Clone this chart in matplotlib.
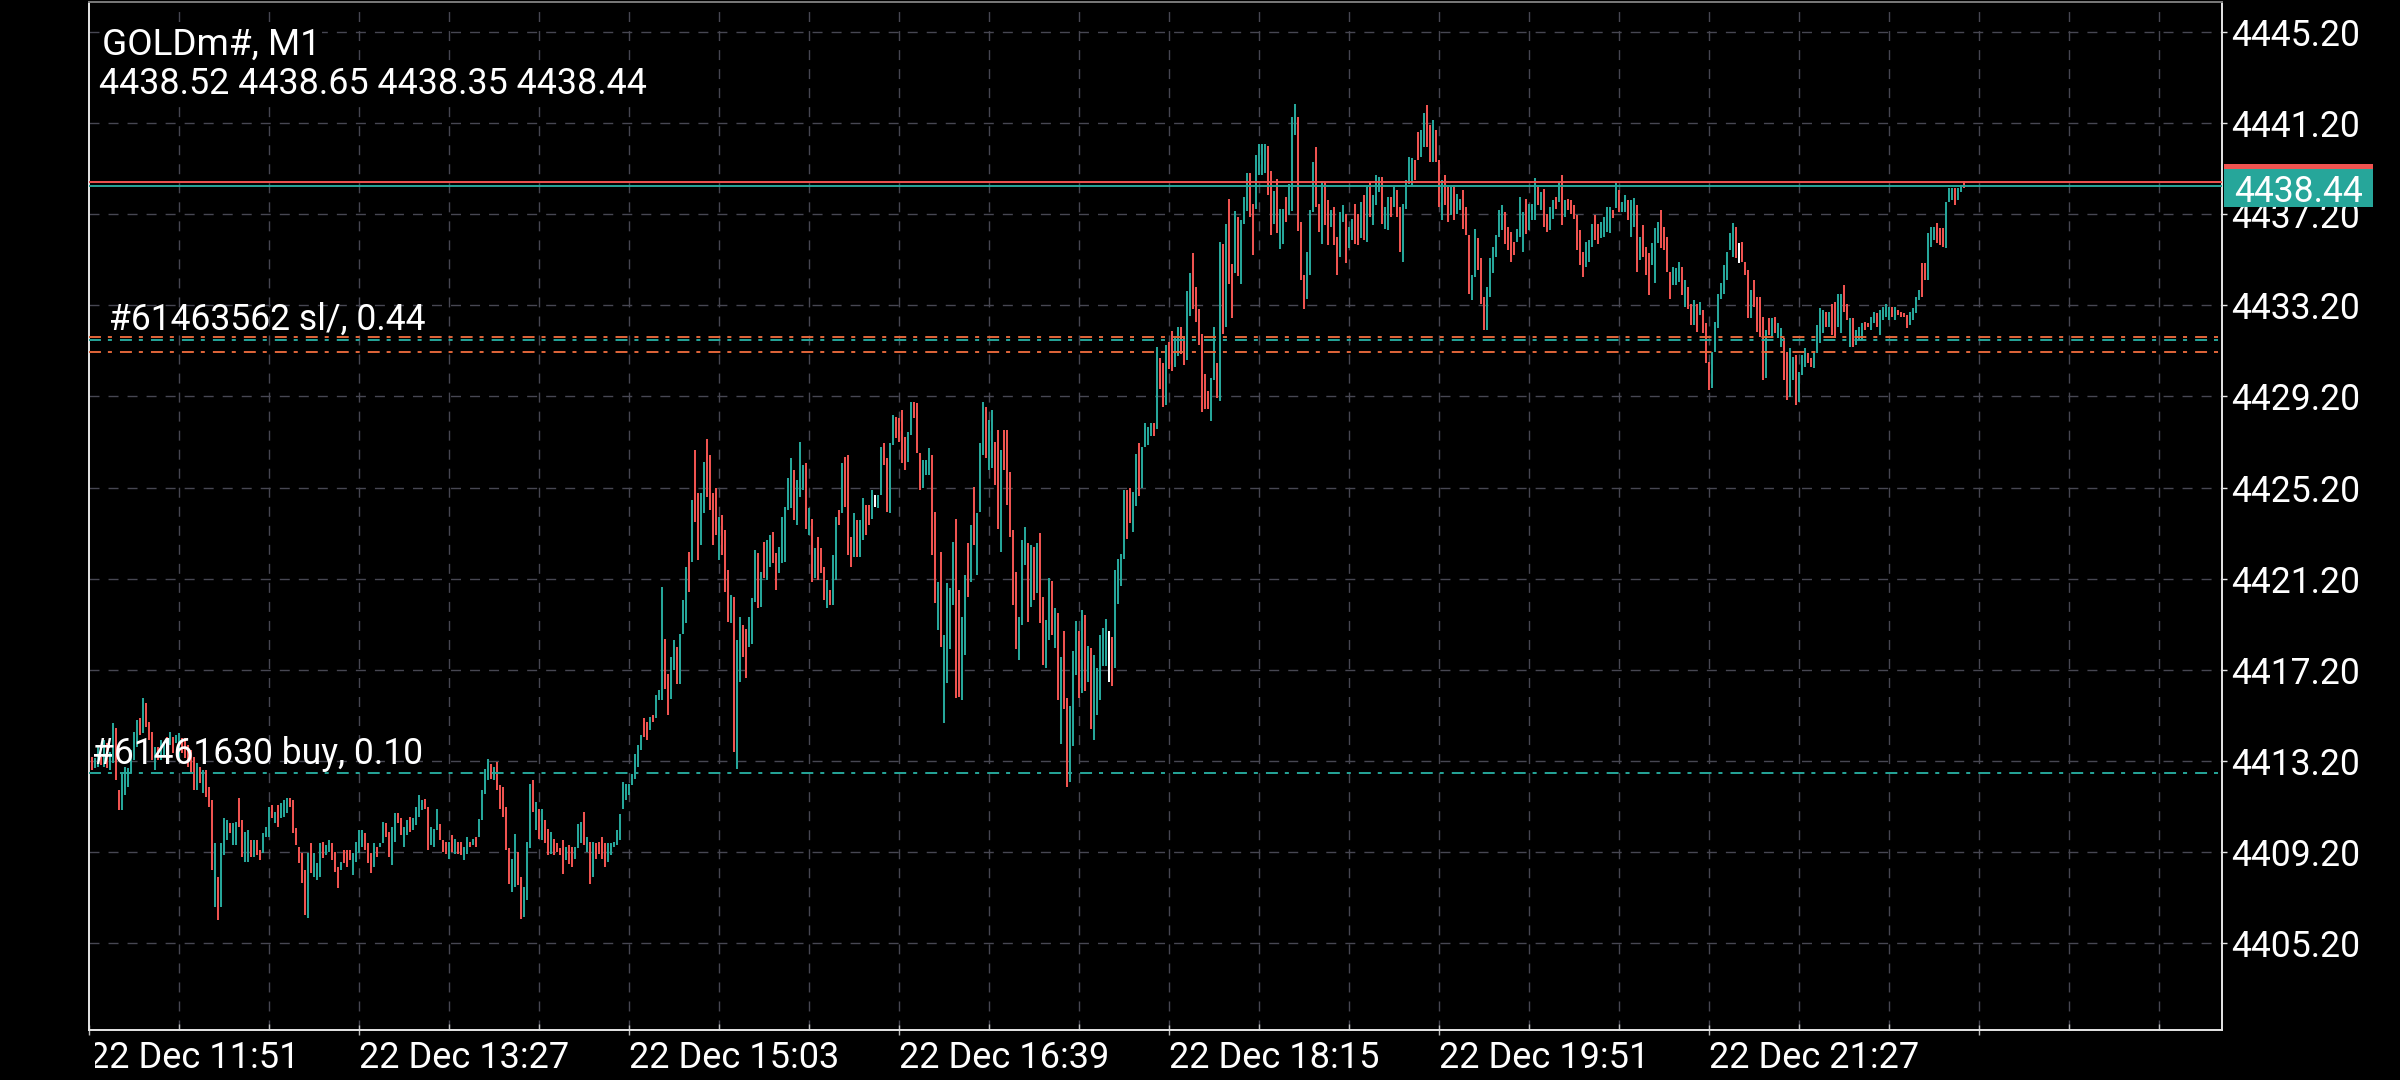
import numpy as np
import matplotlib
matplotlib.use("Agg")
import matplotlib.pyplot as plt
from matplotlib.patches import Rectangle
from matplotlib.transforms import blended_transform_factory, Bbox, TransformedBbox

plt.rcParams['font.family'] = ['Roboto', 'DejaVu Sans']
plt.rcParams['lines.scale_dashes'] = False

# M1 bars, high / low in dollars above 4400 left to right
BASE = 4400.0
hi_a = [13.38, 13.31, 13.82, 13.38, 14.11, 13.97, 13.60, 14.85, 14.63, 11.92,
        12.65, 12.94, 12.87, 13.68, 14.48, 14.99, 15.07, 15.94, 15.73, 14.92,
        14.48, 13.82, 13.82, 14.11, 14.04, 14.26, 14.48, 14.26, 14.33, 14.41,
        14.19, 14.19, 13.90, 13.68, 13.38, 13.09, 12.94, 12.80, 12.80, 12.07,
        11.48, 9.58, 8.11, 9.58, 10.67, 10.60, 10.45, 10.45, 10.53, 11.55,
        10.60, 10.09, 10.16, 9.72, 9.72, 9.72, 9.28, 10.02, 10.31, 11.19,
        11.26, 10.97, 11.26, 11.33, 11.48, 11.55, 11.55, 11.48, 10.23, 9.43,
        9.14, 8.40, 9.14, 9.58, 9.14, 8.70, 9.58, 9.65, 9.50, 9.72,
        9.58, 9.21, 8.55, 8.77, 9.28, 9.28, 9.28, 9.14, 9.65, 10.16,
        10.16, 10.02, 9.58, 9.14, 9.58, 9.43, 9.58, 10.53, 10.45, 10.09,
        10.31, 10.89, 10.89, 10.67, 10.31, 10.60, 10.75, 10.67]
lo_a = [12.80, 12.87, 12.94, 13.02, 12.94, 12.87, 12.80, 13.09, 12.36, 11.04,
        11.04, 11.70, 12.07, 12.65, 13.24, 13.82, 14.33, 14.41, 14.70, 14.11,
        13.24, 12.80, 13.24, 13.24, 13.38, 13.68, 13.90, 13.53, 13.97, 13.24,
        13.53, 13.31, 12.94, 12.65, 11.92, 11.92, 12.21, 11.77, 11.62, 11.19,
        8.40, 6.79, 6.21, 6.79, 9.06, 9.72, 10.02, 9.50, 9.50, 10.31,
        8.99, 8.77, 8.77, 8.99, 8.99, 9.06, 8.84, 9.14, 9.87, 9.87,
        10.67, 10.45, 10.31, 10.67, 10.75, 10.89, 11.19, 10.02, 9.50, 8.70,
        7.82, 6.43, 6.28, 8.26, 8.11, 7.97, 8.11, 8.92, 9.06, 9.21,
        8.84, 8.33, 7.60, 8.40, 8.70, 8.55, 8.84, 8.18, 8.77, 9.14,
        9.43, 9.28, 8.70, 8.26, 8.55, 8.99, 9.43, 9.58, 9.87, 8.99,
        8.62, 9.65, 10.45, 9.94, 9.43, 9.94, 10.09, 10.16]
col_a = ("rggrgrggrr" "ggggggrgrr" "rgrggrgrgg" "rrrrrgrgrr" "rgrgggrggr"
         "rggrgrrggg" "rgrgggrrrr" "rrgrgggrgg" "rrrgrrrggg" "grrrgrggrr" "ggrrggrg")

hi_b = [11.18, 11.69, 11.47, 11.54, 11.18, 10.30, 10.22, 11.10, 10.44, 9.71,
        9.64, 9.64, 9.93, 9.78, 9.64, 9.64, 9.42, 9.86, 9.64, 9.78,
        9.86, 10.66, 11.91, 12.86, 13.30, 13.08, 12.93, 13.15, 12.13, 12.05,
        11.18, 9.35, 8.91, 10.00, 9.20, 8.10, 7.66, 9.64, 12.20, 12.35,
        11.40, 11.10, 11.10, 10.59, 10.22, 10.08, 9.78, 9.57, 9.35, 9.71,
        9.42, 9.49, 9.42, 9.42, 10.44, 10.52, 10.96, 9.86, 9.64, 9.64,
        9.57, 9.64, 9.86, 9.57, 9.57, 9.57, 9.64, 10.15, 10.88, 12.27,
        12.20, 12.20, 12.64, 13.52, 13.88, 14.32, 15.06, 14.91, 15.13, 15.20,
        16.08, 16.30, 20.84, 18.57, 17.03, 17.76, 18.50, 18.20, 18.79, 20.25,
        21.72, 22.38, 24.65, 26.84, 24.94, 24.94, 26.33, 27.35, 26.62, 24.94,
        25.16, 23.92, 23.99, 23.33, 21.57]
lo_b = [10.37, 10.74, 11.03, 11.10, 9.27, 9.49, 9.42, 10.15, 9.71, 9.20,
        9.13, 8.91, 9.20, 9.13, 9.13, 9.05, 8.83, 9.13, 9.42, 9.49,
        9.42, 9.86, 10.59, 11.76, 12.35, 12.42, 12.35, 11.91, 11.10, 10.74,
        9.27, 7.81, 7.44, 7.66, 7.74, 6.27, 6.34, 7.08, 9.35, 10.96,
        10.15, 9.78, 9.71, 9.57, 9.05, 9.13, 9.05, 9.20, 9.05, 8.25,
        8.83, 8.69, 8.54, 8.91, 9.35, 9.57, 9.49, 9.20, 7.81, 8.10,
        8.91, 9.13, 8.91, 8.54, 8.76, 9.05, 9.42, 9.49, 9.71, 11.10,
        11.47, 11.69, 12.13, 12.42, 12.93, 13.67, 14.25, 14.10, 14.54, 14.91,
        15.06, 15.86, 15.86, 16.37, 15.20, 15.93, 17.18, 16.59, 16.59, 18.79,
        19.23, 20.62, 21.94, 23.69, 22.01, 22.67, 24.06, 24.79, 24.21, 22.67,
        23.11, 22.01, 22.23, 20.62, 19.31]
col_b = ("gggrrgggrr" "rgrgrrggrg" "rggggrgrrr" "rrggrrgggr" "grgrrgrrrr"
         "grrgggrgrg" "rrrrgggggg" "ggggggrrgr" "gggrrggrgg" "grgrrggrrr" "rgrrr")

hi_c = [20.48, 20.40, 18.50, 19.52, 19.16, 19.01, 19.52, 20.33, 22.45, 22.31,
        21.50, 22.82, 22.89, 23.11, 23.26, 22.31, 22.60, 23.92, 24.36, 25.60,
        26.48, 25.97, 25.53, 27.21, 26.19, 26.26, 24.28, 23.84, 22.53, 23.04,
        22.53, 21.72, 21.13, 20.70, 22.23, 23.92, 24.21, 26.26, 26.55, 26.63,
        23.04, 24.06, 23.77, 23.77, 24.72, 24.43, 24.43, 25.09, 24.87, 24.87,
        26.99, 27.14, 26.48, 27.14, 28.38, 28.31, 28.24, 28.60, 27.43, 27.65,
        28.97, 28.97, 28.90, 26.70, 26.41, 26.41, 26.92, 26.63, 24.14, 21.06,
        22.38, 18.72, 20.99, 20.77, 22.82, 23.84, 20.70, 19.52, 21.35, 22.75,
        23.55, 25.23, 24.06, 27.14, 28.97, 28.75, 28.16, 28.60, 27.21, 27.72,
        26.85, 27.72, 27.72, 25.89, 23.33, 21.50, 19.52, 22.89, 23.48, 22.75,
        22.67, 22.60, 22.75, 23.19, 20.40, 19.38, 21.21]
lo_c = [19.23, 13.59, 12.86, 16.67, 17.77, 16.82, 18.21, 18.35, 20.18, 19.89,
        19.96, 21.21, 21.13, 21.72, 21.87, 20.70, 21.43, 21.87, 21.94, 24.21,
        24.28, 23.77, 23.55, 24.80, 25.09, 23.40, 23.11, 21.06, 21.21, 21.13,
        21.43, 20.26, 19.89, 20.04, 20.04, 21.13, 23.55, 24.06, 24.36, 22.23,
        21.72, 22.16, 22.16, 22.16, 22.89, 23.11, 23.55, 23.84, 24.36, 24.28,
        24.87, 26.19, 24.14, 24.06, 27.06, 27.36, 27.21, 26.26, 25.97, 26.33,
        27.50, 28.24, 26.70, 25.09, 25.16, 25.75, 25.75, 22.23, 20.11, 18.94,
        18.21, 14.84, 16.60, 18.13, 20.04, 15.94, 16.01, 15.86, 17.84, 20.40,
        21.06, 22.67, 21.35, 24.14, 26.63, 26.48, 25.97, 26.04, 25.31, 23.40,
        22.38, 25.97, 24.43, 23.04, 20.04, 18.13, 17.62, 19.16, 21.79, 19.31,
        19.96, 20.26, 20.55, 19.23, 17.40, 17.26, 18.50]
col_c = ("grggrrgggr" "grggrrgggg" "grgggrgrgr" "rrgrggrgrr" "rgrggrrgwg"
         "grrggrrrrg" "grrrgggrrg" "rggggrrggr" "grgggrggrr" "grrrrrgggr" "grgrrgg")

hi_d = [21.08, 19.90, 19.71, 17.75, 18.92, 15.98, 15.59, 18.04, 19.32, 18.92,
        19.81, 19.61, 18.24, 18.14, 17.85, 17.26, 18.73, 19.02, 19.42, 18.92,
        18.63, 21.57, 22.06, 22.26, 25.10, 25.10, 25.20, 25.00, 26.67, 27.16,
        26.96, 28.04, 27.85, 28.04, 28.04, 31.38, 30.89, 30.69, 31.47, 31.57,
        32.06, 31.77, 32.26, 32.26, 31.87, 33.83, 34.61, 35.49, 34.02, 33.04,
        31.96, 30.20, 29.42, 30.00, 32.26, 30.69, 35.98, 35.88, 36.77, 37.85,
        35.00, 37.36, 37.06, 36.96, 37.94, 39.02, 39.02, 37.65, 39.81, 40.30,
        40.30, 40.30, 40.20, 39.12, 38.24, 38.73, 37.45, 37.45, 37.94, 38.53,
        41.47, 42.06, 41.47]
lo_d = [18.73, 18.14, 15.89, 13.93, 15.49, 12.06, 12.26, 13.83, 16.96, 15.98,
        16.18, 16.28, 16.67, 14.61, 14.12, 15.20, 15.89, 17.36, 17.36, 16.67,
        16.47, 17.26, 20.10, 20.89, 22.06, 22.94, 23.63, 23.24, 24.41, 24.81,
        25.20, 26.96, 27.06, 27.45, 27.45, 27.75, 29.51, 28.73, 28.83, 30.40,
        30.30, 30.49, 30.98, 31.08, 30.59, 30.79, 32.75, 33.04, 32.45, 31.47,
        28.53, 28.63, 28.63, 28.14, 29.90, 29.12, 29.02, 31.96, 32.26, 34.12,
        32.65, 34.61, 34.51, 34.12, 36.77, 37.36, 37.06, 35.40, 37.45, 38.92,
        38.92, 39.02, 38.04, 36.28, 36.77, 36.38, 35.69, 35.89, 36.87, 37.16,
        37.36, 40.69, 36.47]
col_d = ("rgrgrrgggr" "grgrgggggw" "rggggrrggr" "ggggrgrrgr" "rggrrggrrr"
         "rrrggrgrgr" "rgrgggrrgg" "ggrrgrggrg" "ggr")

hi_e = [36.87, 34.52, 35.55, 37.38, 39.50, 40.16, 37.67, 38.62, 38.62, 37.82,
        37.38, 37.53, 36.21, 37.31, 37.60, 37.23, 36.65, 37.01, 37.67, 37.23,
        37.75, 38.04, 38.40, 38.62, 38.04, 38.92, 38.84, 38.84, 37.53, 37.97,
        37.97, 38.40, 38.26, 37.53, 37.67, 38.70, 39.72, 39.65, 39.57, 40.82,
        40.89, 41.63, 41.99, 41.11, 41.33, 40.89, 39.57, 38.70, 38.92, 38.40,
        38.40, 38.48, 38.11, 37.89, 38.26, 37.53, 36.28, 34.52, 36.57, 36.14,
        35.26, 33.57, 34.01, 35.26, 35.77, 36.28, 37.38, 37.60, 37.31, 36.65,
        36.43, 35.99, 36.57, 37.97, 37.31, 37.89, 37.67, 37.67, 38.77, 38.48,
        38.18, 38.33, 37.23, 37.53, 37.82, 37.97, 38.62, 38.92, 37.82, 37.89,
        37.82, 37.60, 37.16, 36.50, 35.55, 35.99, 36.06, 36.79, 37.16, 36.79,
        36.87, 37.09, 37.53]
lo_e = [34.30, 33.06, 33.50, 34.52, 37.31, 37.53, 36.43, 35.91, 36.72, 35.84,
        36.65, 35.84, 34.52, 35.33, 36.87, 35.04, 35.70, 36.06, 35.91, 35.84,
        36.14, 36.06, 35.99, 37.09, 36.72, 37.60, 38.18, 36.79, 36.57, 36.50,
        37.09, 37.53, 37.09, 35.55, 35.11, 37.45, 38.55, 38.48, 38.70, 39.57,
        39.72, 40.16, 40.16, 39.50, 39.50, 39.50, 37.53, 36.94, 37.60, 36.87,
        37.16, 36.94, 37.23, 37.38, 36.57, 36.28, 33.72, 33.43, 34.45, 34.74,
        33.28, 32.11, 32.11, 33.57, 34.60, 35.33, 36.21, 36.50, 35.91, 35.62,
        35.11, 35.40, 35.99, 36.21, 35.55, 36.35, 36.50, 36.94, 36.94, 37.60,
        37.38, 36.65, 36.43, 36.50, 37.01, 37.45, 37.75, 36.72, 37.09, 37.38,
        37.23, 37.01, 35.62, 34.96, 34.45, 34.89, 35.11, 35.77, 36.06, 35.91,
        36.14, 36.21, 36.43]
col_e = ("rrgggrrgrr" "grrggrggrr" "grgrgggrgg" "rgrrggggrr" "ggrrgrrgrr"
         "grggrrrggr" "rrggggggrr" "rrgggrgggr" "grrggrgrgr" "rrrrrgggrr" "ggg")

hi_f = [37.53, 37.38, 38.56, 38.26, 37.75, 38.04, 37.82, 37.82, 37.90, 37.60,
        36.21, 36.73, 35.77, 35.48, 35.92, 36.58, 36.87, 37.38, 36.65, 36.21,
        34.68, 34.90, 34.82, 35.12, 34.90, 34.31, 34.02, 33.28, 33.43, 33.28,
        33.36, 32.99, 32.41, 30.72, 31.16, 32.48, 33.72, 34.16, 34.97, 35.55,
        36.36, 36.80, 36.65, 35.92, 35.99, 35.12, 34.75, 33.87, 34.31, 33.58,
        33.58, 32.70, 32.11, 32.63, 32.63, 32.70, 32.41, 32.19, 31.75, 31.16,
        31.31, 30.94, 31.02, 30.28, 31.02, 31.31, 31.09, 30.87, 31.09, 32.33,
        33.07, 32.99, 32.92, 32.92, 33.28, 33.36, 33.72, 33.72, 34.09, 33.28,
        32.63, 32.63, 32.11, 32.26, 32.41, 32.48, 32.41, 32.70, 32.92, 32.85,
        32.99, 33.14, 33.28, 33.14, 33.14, 33.14, 32.99, 32.92, 32.85, 32.77,
        32.92, 33.07, 33.58, 33.87, 35.04, 35.04, 36.36, 36.65, 36.65, 36.80,
        36.58, 36.58, 37.75, 38.34, 38.34, 38.34, 38.34, 38.48, 38.65]
lo_f = [36.36, 37.02, 37.46, 37.31, 37.31, 37.31, 36.95, 36.21, 36.65, 34.68,
        35.19, 35.33, 34.53, 33.65, 34.97, 34.16, 35.92, 35.70, 35.63, 34.68,
        33.50, 34.09, 34.09, 34.24, 33.65, 33.14, 33.06, 32.33, 32.33, 32.04,
        32.77, 31.97, 30.65, 29.48, 29.55, 31.16, 32.19, 33.50, 33.72, 34.31,
        35.63, 35.33, 35.26, 35.04, 35.12, 34.53, 32.63, 32.63, 33.14, 32.04,
        31.82, 29.92, 29.99, 31.89, 31.82, 31.97, 31.75, 31.38, 29.92, 29.04,
        29.19, 29.92, 28.82, 28.97, 30.14, 30.50, 30.65, 30.50, 30.43, 31.09,
        31.53, 31.97, 32.26, 32.26, 31.89, 31.75, 32.26, 31.97, 32.92, 32.55,
        31.38, 31.38, 31.46, 31.68, 31.68, 32.11, 32.26, 32.11, 32.41, 32.26,
        31.89, 32.55, 32.70, 32.55, 32.70, 32.55, 32.77, 32.70, 32.70, 32.19,
        32.33, 32.55, 32.85, 33.43, 33.58, 34.31, 34.31, 35.77, 36.07, 35.92,
        35.85, 35.77, 35.70, 37.75, 37.82, 37.60, 37.82, 38.19, 38.35]
col_f = ("grgrggrggr" "grrrgggrrr" "rgggrgrrgr" "grrrgggggg" "ggrwrrrgrr"
         "rrgrgrggrr" "ggrgggrrgg" "ggrgrrggrr" "grgggrrggr" "ggggrgrrrr"
         "ggggrrgggr" "rrgggrggr")

symbol = "GOLDm#, M1"
last_ohlc = [4438.52, 4438.65, 4438.35, 4438.44]
bid = 4438.44
ask = 4438.60
price_ticks = [4445.20, 4441.20, 4437.20, 4433.20, 4429.20, 4425.20,
               4421.20, 4417.20, 4413.20, 4409.20, 4405.20]
time_labels = ["22 Dec 11:51", "22 Dec 13:27", "22 Dec 15:03", "22 Dec 16:39",
               "22 Dec 18:15", "22 Dec 19:51", "22 Dec 21:27"]
buy_text = "#61461630 buy, 0.10"
buy_price = 4412.66
sl_text = "#61463562 sl/, 0.44"
sl_prices = [4431.81, 4431.15]
sl_entry = 4431.69

TEAL = '#26a69a'
RED = '#ef5350'
ORANGE = '#e2663a'
GRID = '#474752'
palette = {'g': TEAL, 'r': RED, 'w': '#ffffff'}

highs = BASE + np.array(hi_a + hi_b + hi_c + hi_d + hi_e + hi_f)
lows = BASE + np.array(lo_a + lo_b + lo_c + lo_d + lo_e + lo_f)
bar_cols = [palette[c] for c in col_a + col_b + col_c + col_d + col_e + col_f]
x = np.arange(len(highs))

# ---- layout (screen pixels of the 2400x1080 capture)
W, H = 2400, 1080
left_px, right_px, top_px, bot_px = 89, 2222, 2, 1030
first_bar_px, pitch_px = 91.7, 3.0

fig = plt.figure(figsize=(W / 100, H / 100), dpi=100, facecolor='black')
ax = fig.add_axes([left_px / W, 1 - bot_px / H, (right_px - left_px) / W, (bot_px - top_px) / H])
ax.set_facecolor('black')
ax.set_xlim((left_px - first_bar_px) / pitch_px, (right_px - first_bar_px) / pitch_px)
ax.set_ylim(4401.38, 4446.52)

# grid every 30 bars, labels every third grid line
grid_x = [(left_px - first_bar_px) / pitch_px + 30 * k for k in range(24)]
dash_grid = (0, (7.2, 6.5))
for gx in grid_x[1:]:
    ax.axvline(gx, color=GRID, lw=1.0, linestyle=dash_grid, zorder=1)
for p in price_ticks:
    ax.axhline(p, color=GRID, lw=1.0, linestyle=dash_grid, zorder=1)

ax.vlines(x, lows, highs, colors=bar_cols, linewidth=1.45, zorder=3)

# price / order lines
dashdot = (0, (8.6, 5.0, 2.9, 5.8))
ax.axhline(ask, color=RED, lw=1.4, zorder=4)
ax.axhline(bid, color=TEAL, lw=1.4, zorder=4)
ax.axhline(sl_entry, color=TEAL, lw=1.4, linestyle=dashdot, zorder=4)
for p in sl_prices:
    ax.axhline(p, color=ORANGE, lw=1.4, linestyle=dashdot, zorder=4)
ax.axhline(buy_price, color=TEAL, lw=1.4, linestyle=dashdot, zorder=4)

ax_y = blended_transform_factory(ax.transAxes, ax.transData)
ax.annotate(sl_text, xy=((109 - left_px) / (right_px - left_px), sl_prices[0]), xycoords=ax_y,
            xytext=(0, 5.2), textcoords='offset points', color='white', fontsize=25.6,
            ha='left', va='baseline', zorder=6)
ax.annotate(buy_text, xy=((92 - left_px) / (right_px - left_px), buy_price), xycoords=ax_y,
            xytext=(0, 6.5), textcoords='offset points', color='white', fontsize=25.6,
            ha='left', va='baseline', zorder=6)

# spines and ticks
for side in ['left', 'right', 'bottom']:
    ax.spines[side].set_color('#e6e6e6')
    ax.spines[side].set_linewidth(1.4)
ax.spines['top'].set_color('#7a7a7a')
ax.spines['top'].set_linewidth(1.4)

ax.yaxis.tick_right()
ax.set_yticks(price_ticks)
ax.set_yticklabels([f"{p:.2f}" for p in price_ticks])
ax.tick_params(axis='y', direction='out', length=3.6, width=1.0, color='#e6e6e6',
               labelcolor='white', labelsize=25.6, pad=3.0)
ax.set_xticks(grid_x[::3])
ax.set_xticks([g for i, g in enumerate(grid_x) if i % 3], minor=True)
ax.tick_params(axis='x', which='major', direction='inout', length=6.5, width=1.0,
               color='#bdbdbd', labelbottom=False)
ax.tick_params(axis='x', which='minor', direction='in', length=4.3, width=1.0, color='#bdbdbd')

# time labels, clipped at the chart's left edge
lab_tr = blended_transform_factory(ax.transData, fig.transFigure)
clip = TransformedBbox(Bbox([[95 / W, 0], [1, 1]]), fig.transFigure)
for gx, lab in zip(grid_x[::3], time_labels):
    t = ax.text(gx, 1 - 1068 / H, lab, transform=lab_tr, color='white', fontsize=26,
                ha='left', va='baseline', clip_on=True)
    t.set_clip_box(clip)

# symbol header
fig.text(102 / W, 1 - 55 / H, symbol, color='white', fontsize=26.6, ha='left', va='baseline',
         bbox=dict(facecolor='black', edgecolor='none', pad=1))
fig.text(99 / W, 1 - 94 / H, " ".join(f"{v:.2f}" for v in last_ohlc), color='white',
         fontsize=25.8, ha='left', va='baseline',
         bbox=dict(facecolor='black', edgecolor='none', pad=1))

# current price tag on the right scale
tag_tr = blended_transform_factory(fig.transFigure, ax.transData)
fig.add_artist(Rectangle((2224 / W, bid - 0.92), 149 / W, 1.66, transform=tag_tr,
                         facecolor=TEAL, edgecolor='none', zorder=5))
fig.add_artist(Rectangle((2224 / W, bid + 0.74), 149 / W, 0.22, transform=tag_tr,
                         facecolor=RED, edgecolor='none', zorder=5))
fig.text(2234 / W, bid - 0.09, f"{bid:.2f}", transform=tag_tr, color='white', fontsize=25.6,
         ha='left', va='center_baseline', zorder=6)

fig.savefig('out.png', dpi=100, facecolor='black')
